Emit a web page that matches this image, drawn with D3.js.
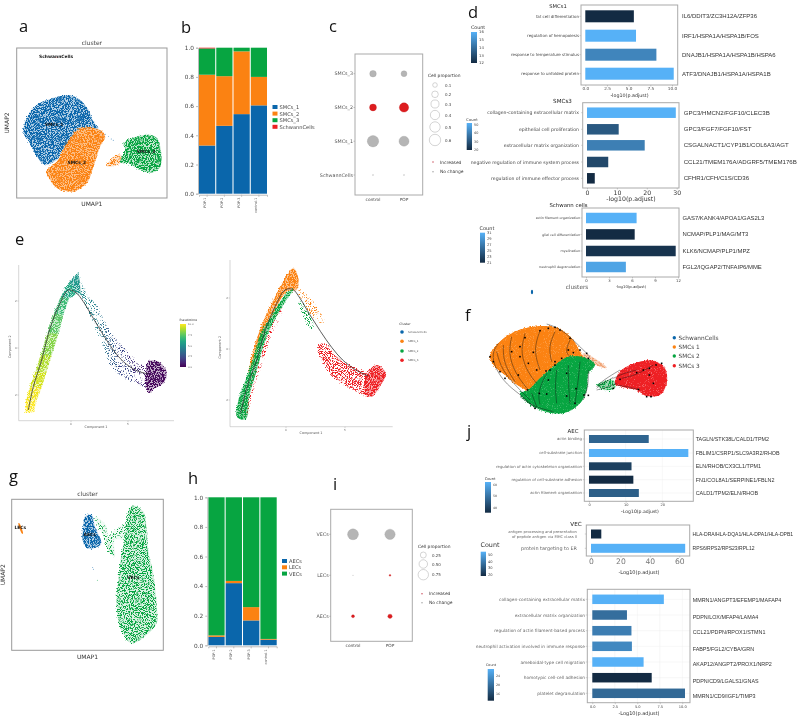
<!DOCTYPE html>
<html><head><meta charset="utf-8">
<script src="https://cdn.jsdelivr.net/npm/d3@7/dist/d3.min.js"></script>
<style>html,body{margin:0;padding:0;background:#fff}svg{display:block;filter:blur(.4px)}</style>
</head><body><svg id="c" width="800" height="719"></svg>
<script>
// ---------- DATA ----------
const clusterColors={blue:"#0a66ab",orange:"#fb8212",green:"#07a541",red:"#ee2024"};
// stacked proportions, panel b
const sampleNames=["POP-1","POP-2","POP-3","control-1"];
const smcKeys=["SMCs_1","SMCs_2","SMCs_3","SchwannCells"];
const smc1Share=[.33,.465,.545,.605];
const smc2Share=[.485,.34,.43,.195];
const smc3Share=[.18,.195,.025,.2];
const schwannShare=[.005,0,0,0];
// stacked proportions, panel h
const ecKeys=["AECs","LECs","VECs"];
const aecShare=[.057,.42,.168,.038];
const lecShare=[.01,.015,.09,.005];
const vecShare=[.933,.565,.742,.957];
// dot panels
const groupNames=["control","POP"];
const cRows=["SMCs_3","SMCs_2","SMCs_1","SchwannCells"];
const cControl=[.2,.22,.6,.004];
const cPop=[.16,.4,.46,.004];
const cChange=[0,1,0,0];
const cLegend=[.1,.2,.3,.4,.5,.6];
const iRows=["VECs","LECs","AECs"];
const iControl=[.82,.002,.06];
const iPop=[.74,.02,.13];
const iChangeControl=[0,0,1];
const iChangePop=[0,1,1];
const iLegend=[.25,.5,.75];
// enrichment: SMCs1
const d1Terms=["fat cell differentiation","regulation of hemopoiesis","response to temperature stimulus","response to unfolded protein"];
const d1Vals=[5.6,5.85,8.2,10.2];
const d1Counts=[12,16,14.7,16];
const d1Genes=["IL6/DDIT3/ZC3H12A/ZFP36","IRF1/HSPA1A/HSPA1B/FOS","DNAJB1/HSPA1A/HSPA1B/HSPA6","ATF3/DNAJB1/HSPA1A/HSPA1B"];
// enrichment: SMCs3
const d2Terms=["collagen-containing extracellular matrix","epithelial cell proliferation","extracellular matrix organization","negative regulation of immune system process","regulation of immune effector process"];
const d2Vals=[29.7,10.6,19.3,7.1,2.6];
const d2Counts=[52,31,40,27,20];
const d2Genes=["GPC3/HMCN2/FGF10/CLEC3B","GPC3/FGF7/FGF10/FST","CSGALNACT1/CYP1B1/COL6A3/AGT","CCL21/TMEM176A/ADGRF5/TMEM176B","CFHR1/CFH/C1S/CD36"];
// enrichment: Schwann cells
const d3Terms=["actin filament organization","glial cell differentiation","myelination","neutrophil degranulation"];
const d3Vals=[6.6,6.35,11.7,5.2];
const d3Counts=[31,21,21.6,30];
const d3Genes=["GAS7/KANK4/APOA1/GAS2L3","NCMAP/PLP1/MAG/MT3","KLK6/NCMAP/PLP1/MPZ","FGL2/IQGAP2/TNFAIP6/MME"];
// enrichment: AEC
const j1Terms=["actin binding","cell-substrate junction","regulation of actin cytoskeleton organization","regulation of cell-substrate adhesion","actin filament organization"];
const j1Vals=[16.3,27.1,11.6,12.1,13.6];
const j1Counts=[47,62,40,36,46];
const j1Genes=["TAGLN/STK38L/CALD1/TPM2","FBLIM1/CSRP1/SLC9A3R2/RHOB","ELN/RHOB/CX3CL1/TPM1","FN1/COL8A1/SERPINE1/FBLN2","CALD1/TPM2/ELN/RHOB"];
// enrichment: VEC
const j2Terms=["antigen processing and presentation|of peptide antigen via MHC class II","protein targeting to ER"];
const j2Vals=[7,64];
const j2Counts=[15,55];
const j2Genes=["HLA-DRA/HLA-DQA1/HLA-DPA1/HLA-DPB1","RPS6/RPS2/RPS23/RPL12"];
// enrichment: lower block
const j3Terms=["collagen-containing extracellular matrix","extracellular matrix organization","regulation of actin filament-based process","neutrophil activation involved in immune response","ameboidal-type cell migration","homotypic cell-cell adhesion","platelet degranulation"];
const j3Vals=[7.95,3.85,4.35,4.4,5.7,6.6,10.3];
const j3Counts=[27,20.5,22,23,27,14,20];
const j3Genes=["MMRN1/ANGPT3/EFEMP1/MAFAP4","PDPN/LOX/MFAP4/LAMA4","CCL21/PDPN/RPOX1/STMN1","FABP5/FGL2/CYBA/GRN","AKAP12/ANGPT2/PROX1/NRP2","PDPN/CD9/LGALS1/GNAS","MMRN1/CD9/IGF1/TIMP3"];
// cluster outlines read from the embeddings (reading units of each panel)
const umapSmc1=[[70,395],[85,345],[110,315],[150,297],[205,285],[240,300],[265,330],[280,365],[295,385],[240,385],[215,415],[190,450],[170,480],[135,495],[105,460],[85,420]];
const umapSmc2=[[140,515],[175,480],[200,430],[240,385],[300,390],[315,410],[300,440],[280,500],[260,550],[220,575],[170,565],[150,540]];
const umapSmc2Tail=[[320,500],[340,470],[362,465],[360,490]];
const umapSmc3=[[360,488],[375,450],[370,430],[430,405],[465,410],[480,440],[478,505],[450,518],[420,510],[385,490]];
const umapStrays=[[300,395],[315,403],[325,410],[333,417],[339,421],[168,172]];
const umapVec=[[400,197],[430,215],[440,260],[445,330],[460,400],[470,490],[470,550],[440,585],[395,610],[360,560],[350,490],[355,420],[365,340],[380,275],[385,215]];
const umapVecBridge=[[320,300],[340,275],[385,250],[385,300],[345,300],[345,350],[330,340]];
const umapVecLeft=[[285,230],[318,255],[325,300],[345,350],[330,340],[310,290]];
const umapAec=[[255,230],[275,225],[285,260],[303,312],[265,326],[248,300],[250,260]];
const umapLec=[[55,250],[58,250],[69,281],[66,281]];
const ecStrays=[[278,383],[280,388],[292,421]];
// pseudotime trajectory (left arm + descending arm), reading units
const trajUpper=[[76,517],[78,480],[90,440],[106,395],[122,345],[142,280],[162,220],[182,170],[208,125],[235,97],[262,165],[290,190],[320,250],[345,290],[380,330],[420,375],[445,375]];
const trajLower=[[102,517],[110,480],[126,440],[140,395],[156,345],[176,280],[190,225],[208,175],[232,160],[245,165],[270,220],[305,300],[330,370],[360,405],[410,430],[445,445],[445,445]];
const trajTime=[10,9.8,9.3,8.8,8.2,7.4,6.8,6,5.3,4.8,4.5,3.8,3,2.2,1.5,.8,.5];
const trajBlob=[[445,365],[475,365],[500,395],[490,430],[465,445],[445,458]];
const trajCurveLeft=[[85,510],[100,440],[125,360],[150,265],[180,190],[205,150],[228,158],[250,185],[280,235],[310,285],[340,330],[370,365],[410,392],[445,402]];
const trajCurveRight=[[722,520],[740,445],[770,360],[798,265],[830,190],[855,150],[878,148],[900,175],[930,225],[962,275],[995,322],[1028,360],[1068,390],[1105,408]];
const trajGreen=[[712,532],[713,490],[733,430],[758,360],[783,280],[820,220],[860,160],[880,148],[853,190],[813,260],[793,310],[768,400],[748,470],[738,537]];
const trajOrange=[[745,400],[758,340],[783,260],[813,195],[850,125],[880,85],[895,115],[890,150],[860,155],[820,220],[785,290],[760,370]];
const trajOrangeDown=[[900,150],[945,190],[975,250],[960,250],[900,170]];
const trajRedArm=[[735,530],[750,450],[770,380],[800,300],[840,210],[850,205],[812,300],[782,390],[762,450],[742,530]];
const trajGreenDown=[[890,170],[920,200],[945,270],[930,260],[900,200]];
const trajRedDown=[[955,320],[975,310],[1010,350],[1060,380],[1100,400],[1100,465],[1060,450],[1000,410],[970,370]];
const trajRedBlob=[[1100,405],[1130,375],[1158,400],[1140,440],[1115,470],[1098,465]];
// velocity embedding, reading units
const veloOrange=[[150,200],[175,160],[215,130],[270,112],[345,112],[395,145],[420,185],[430,205],[385,200],[340,230],[300,265],[265,300],[240,290],[195,255],[165,230]];
const veloGreen=[[265,300],[300,265],[340,230],[385,200],[440,205],[465,225],[445,250],[440,300],[420,340],[385,365],[340,370],[290,355],[255,330],[240,310]];
const veloRed=[[545,240],[600,215],[640,212],[675,235],[680,280],[660,315],[620,318],[590,300],[545,290],[525,280]];
const veloGreenTail=[[470,285],[520,270],[525,295],[495,300]];
const veloTail=[[430,190],[500,232],[497,235],[428,200]];
const veloLines=[[[320,102],[360,115],[400,150],[430,180],[450,200]],[[175,160],[155,190],[165,235],[200,285],[250,320],[285,355]],[[215,140],[205,190],[225,250],[265,300]],[[255,130],[240,190],[265,250],[290,280]],[[300,122],[280,180],[300,240]],[[345,125],[325,170],[335,215]],[[390,150],[375,185],[390,200]],[[170,185],[185,240],[230,290],[270,330]],[[190,165],[190,220],[225,275]],[[320,250],[300,290],[295,320],[300,345]],[[350,240],[345,290],[350,340]],[[385,225],[385,280],[390,340]],[[420,215],[415,270],[405,340]],[[445,240],[445,290],[430,330]],[[275,310],[290,350]],[[540,240],[490,270],[470,290]],[[520,262],[480,285],[470,295]],[[530,280],[490,295],[470,300]],[[590,240],[550,250],[520,265]],[[640,225],[590,255],[545,265]],[[600,300],[560,290],[530,285]],[[240,320],[280,350],[340,365]]];
const veloArrows=[[150,200],[160,215],[180,245],[195,265],[240,170],[255,143],[300,122],[325,115],[345,112],[360,120],[390,145],[420,180],[440,190],[445,205],[215,185],[240,200],[280,187],[265,220],[235,255],[290,240],[318,243],[330,240],[345,215],[365,205],[385,180],[400,188],[262,300],[298,310],[320,312],[380,318],[405,340],[432,315],[445,316],[408,296],[380,250],[325,270],[285,355],[345,225],[590,248],[610,240],[628,235],[648,225],[665,220],[628,255],[595,298],[620,320],[633,320],[520,295],[540,268],[640,280]];
const veloLegend=["SchwannCells","SMCs 1","SMCs 2","SMCs 3"];

// ---------- HELPERS ----------
const svg=d3.select("#c");
const FONT='"DejaVu Sans",sans-serif', LIB='"Liberation Sans",sans-serif', BIG='"Open Sans",sans-serif';
const defs=svg.append("defs");
function addSpeckle(id,gain,cut,seed){
  const f=defs.append("filter").attr("id",id).attr("x","-10%").attr("y","-10%").attr("width","120%").attr("height","120%").attr("color-interpolation-filters","sRGB");
  f.append("feTurbulence").attr("type","fractalNoise").attr("baseFrequency",1.05).attr("numOctaves",2).attr("seed",seed).attr("result","n");
  f.append("feDisplacementMap").attr("in","SourceGraphic").attr("in2","n").attr("scale",5).attr("xChannelSelector","R").attr("yChannelSelector","G").attr("result","d");
  f.append("feColorMatrix").attr("in","n").attr("type","matrix").attr("values",`0 0 0 0 0 0 0 0 0 0 0 0 0 0 0 ${gain} 0 0 0 ${cut}`).attr("result","m");
  f.append("feComposite").attr("in","d").attr("in2","m").attr("operator","in");
}
addSpeckle("solid",9,-2.6,2);
addSpeckle("dense",9,-3.7,3);
addSpeckle("mid",9,-4.2,5);
addSpeckle("sparse",9,-4.9,7);
const vir=d3.scaleSequential(d3.interpolateViridis).domain([0,10]);
function txt(g,x,y,s,size,o={}){
  const t=g.append("text").attr("x",x).attr("y",y).text(s).attr("font-size",size)
   .attr("font-family",o.font||FONT).attr("fill",o.fill||"#333").attr("text-anchor",o.anchor||"start");
  if(o.weight)t.attr("font-weight",o.weight);
  if(o.rot!==undefined)t.attr("transform",`rotate(${o.rot} ${x} ${y})`);
  return t;
}
const panelLetter=(x,y,s)=>txt(svg,x,y,s,16.5,{font:BIG,fill:"#111"});
function blob(g,pts,sx,sy,color,filt,under){
  const line=d3.line().x(d=>sx(d[0])).y(d=>sy(d[1])).curve(d3.curveCatmullRomClosed.alpha(.5));
  if(under)g.append("path").attr("d",line(pts)).attr("fill",color).attr("opacity",under);
  if(filt)g.append("path").attr("d",line(pts)).attr("fill",color).attr("filter",`url(#${filt})`);
}
function stacked(keys,names,rows,colors,x0,x1,y1,y0,lx,ly,ld){
  const g=svg.append("g");
  const x=d3.scaleBand().domain(names).range([x0,x1]).paddingInner(.06);
  const y=d3.scaleLinear().domain([0,1]).range([y0,y1]);
  const st=d3.stack().keys(keys)(names.map((n,i)=>{const o={n};keys.forEach((k,j)=>o[k]=rows[j][i]);return o;}));
  st.forEach((s,j)=>g.selectAll(null).data(s).join("rect").attr("x",d=>x(d.data.n)).attr("width",x.bandwidth())
    .attr("y",d=>y(d[1])).attr("height",d=>y(d[0])-y(d[1])).attr("fill",colors[j]));
  const ay=g.append("g").attr("transform",`translate(${x0-1},0)`).call(d3.axisLeft(y).tickValues([0,.2,.4,.6,.8,1]).tickFormat(d3.format(".1f")).tickSize(2).tickPadding(2));
  ay.selectAll("text").attr("font-size",5.8).attr("fill","#444").attr("font-family",FONT);
  ay.selectAll("path,line").attr("stroke","#bbb");
  const ax=g.append("g").attr("transform",`translate(0,${y0+1})`).call(d3.axisBottom(x).tickSize(2));
  ax.selectAll("path,line").attr("stroke","#bbb");
  ax.selectAll("text").attr("font-size",3.4).attr("fill","#555").attr("font-family",FONT).attr("text-anchor","end")
    .attr("transform","rotate(-90)").attr("x",-3).attr("y",-1.5).attr("dy",0);
  keys.forEach((k,j)=>{
    g.append("rect").attr("x",lx).attr("y",ly+j*ld-2).attr("width",5).attr("height",4).attr("fill",colors[j]);
    txt(g,lx+7,ly+j*ld+2,k,5.1,{fill:"#444"});
  });
}
function frame(g,x0,y0,x1,y1,c="#aaa",w=1){g.append("rect").attr("x",x0).attr("y",y0).attr("width",x1-x0).attr("height",y1-y0).attr("fill","none").attr("stroke",c).attr("stroke-width",w);}
function dots(o){
  const g=svg.append("g");
  frame(g,o.x0,o.y0,o.x1,o.y1);
  const r=d3.scaleSqrt().domain([0,1]).range([0,o.k]);
  const x=d3.scalePoint().domain(groupNames).range(o.cols);
  const y=d3.scalePoint().domain(o.rows).range(o.rowRange);
  o.rows.forEach((row,i)=>{
    txt(g,o.x0-2,y(row)+1.7,row,4.8,{anchor:"end",fill:"#555"});
    g.append("line").attr("x1",o.x0-1.5).attr("x2",o.x0).attr("y1",y(row)).attr("y2",y(row)).attr("stroke","#888").attr("stroke-width",.5);
    [[o.a,o.ca,groupNames[0]],[o.b,o.cb,groupNames[1]]].forEach(([v,c,n])=>{
      g.append("circle").attr("cx",x(n)).attr("cy",y(row)).attr("r",r(v[i])).attr("fill",c[i]?"#dd1c1f":"#b5b5b5").attr("stroke",c[i]?"#c01818":"#999").attr("stroke-width",.3);
    });
  });
  groupNames.forEach(n=>txt(g,x(n),o.y1+5.5,n,4.3,{anchor:"middle",fill:"#444"}));
  txt(g,o.lt[0],o.lt[1],"Cell proportion",4.4,{fill:"#333"});
  o.legend.forEach((v,i)=>{
    g.append("circle").attr("cx",o.lcx).attr("cy",o.lys[i]).attr("r",r(v)).attr("fill","#fff").attr("stroke","#aaa").attr("stroke-width",.5);
    txt(g,o.ltx,o.lys[i]+1.5,o.fmt(v),4,{fill:"#444"});
  });
  [["Increased","#c43a4a"],["No change","#999"]].forEach((d,i)=>{
    g.append("circle").attr("cx",o.kx).attr("cy",o.ky[i]).attr("r",.7).attr("fill",d[1]);
    txt(g,o.kx+7,o.ky[i]+1.6,d[0],4.4,{fill:"#333"});
  });
}
function colorbar(g,x0,x1,y0,y1,dom,ticks,title,size,tsize,tx,ty){
  const id="cb"+Math.round(x0)+"_"+Math.round(y0);
  const lg=defs.append("linearGradient").attr("id",id).attr("x1",0).attr("x2",0).attr("y1",1).attr("y2",0);
  lg.append("stop").attr("offset","0%").attr("stop-color","#132b43");
  lg.append("stop").attr("offset","100%").attr("stop-color","#56b1f7");
  g.append("rect").attr("x",x0).attr("y",y0).attr("width",x1-x0).attr("height",y1-y0).attr("fill",`url(#${id})`);
  const s=d3.scaleLinear().domain(dom).range([y1,y0]);
  ticks.forEach(t=>txt(g,x1+2,s(t)+size*.36,t,size,{fill:"#444"}));
  txt(g,tx,ty,title,tsize,{anchor:"middle",fill:"#333"});
}
function barPanel(o){
  const g=svg.append("g");
  const col=d3.scaleLinear().domain(o.dom).range(["#132b43","#56b1f7"]).clamp(true);
  if(o.grid){
    o.ticks.forEach(t=>g.append("line").attr("x1",o.x(t)).attr("x2",o.x(t)).attr("y1",o.box[1]).attr("y2",o.box[3]).attr("stroke","#eee").attr("stroke-width",.5));
    o.ys.forEach(y=>g.append("line").attr("x1",o.box[0]).attr("x2",o.box[2]).attr("y1",y).attr("y2",y).attr("stroke","#eee").attr("stroke-width",.5));
  }
  o.vals.forEach((v,i)=>{
    g.append("rect").attr("x",o.x(0)).attr("y",o.ys[i]-o.h/2).attr("width",o.x(v)-o.x(0)).attr("height",o.h).attr("fill",col(o.counts[i]));
    const parts=o.terms[i].split("|");
    const ts=o.termSize[i]||o.termSize;
    parts.forEach((p,k)=>txt(g,o.termX,o.ys[i]+ts*.36+(k-(parts.length-1)/2)*ts*1.25,p,ts,{anchor:"end",fill:o.termFill||"#444"}));
    g.append("line").attr("x1",o.box[0]-1.5).attr("x2",o.box[0]).attr("y1",o.ys[i]).attr("y2",o.ys[i]).attr("stroke","#888").attr("stroke-width",.4);
    txt(g,o.geneX[i]||o.geneX,(o.geneYs?o.geneYs[i]:o.ys[i])+2,o.genes[i],o.geneSize,{font:LIB,fill:"#333"});
  });
  frame(g,o.box[0],o.box[1],o.box[2],o.box[3],"#aaa",1);
  const ax=g.append("g").attr("transform",`translate(0,${o.box[3]})`).call(d3.axisBottom(o.x).tickValues(o.ticks).tickFormat(o.fmt||d3.format("d")).tickSize(1.5).tickPadding(1));
  ax.select("path").remove();
  ax.selectAll("line").attr("stroke","#888").attr("stroke-width",.4);
  ax.selectAll("text").attr("font-size",o.tickSize).attr("fill",o.tickFill||"#444").attr("font-family",FONT);
  txt(g,o.xl[0],o.xl[1],o.xlabel,o.xlSize,{anchor:"middle",fill:"#333"});
  if(o.title)txt(g,o.title[0],o.title[1],o.title[2],o.titleSize,{anchor:"middle",fill:"#222"});
  return g;
}
function umapFrame(x0,y0,x1,y1,labX,labY){
  const g=svg.append("g");
  frame(g,x0,y0,x1,y1,"#999",1);
  txt(g,(x0+x1)/2,y0-3,"cluster",6,{anchor:"middle",fill:"#444"});
  txt(g,(x0+x1)/2,labY,"UMAP1",6,{anchor:"middle",fill:"#333"});
  txt(g,labX,(y0+y1)/2,"UMAP2",6,{anchor:"middle",fill:"#333",rot:-90});
  return g;
}

// ---------- PANEL LETTERS ----------
[[19,32,"a"],[181,33,"b"],[329,32,"c"],[468,18,"d"],[15,245,"e"],[465,321,"f"],[9,482,"g"],[188,484,"h"],[333,490,"i"],[467,437,"j"]].forEach(d=>panelLetter(...d));

// ---------- a ----------
{
 const g=umapFrame(16.7,48,167,198,9,206);
 const sx=d3.scaleLinear().domain([50,500]).range([16.7,167]);
 const sy=d3.scaleLinear().domain([143,595]).range([48,198]);
 blob(g,umapSmc1,sx,sy,clusterColors.blue,"dense",.3);
 blob(g,umapSmc2,sx,sy,clusterColors.orange,"dense",.5);
 blob(g,umapSmc2Tail,sx,sy,clusterColors.orange,"mid",.2);
 blob(g,umapSmc3,sx,sy,clusterColors.green,"dense",.25);
 umapStrays.forEach((d,i)=>g.append("circle").attr("cx",sx(d[0])).attr("cy",sy(d[1])).attr("r",.45).attr("fill",i==5?clusterColors.red:clusterColors.blue));
 [["SchwannCells",168,169],["SMCs_1",162,374],["SMCs_2",230,489],["SMCs_3",437,455]].forEach(d=>txt(g,sx(d[1]),sy(d[2])+1.5,d[0],4.4,{anchor:"middle",weight:"bold",fill:"#111"}));
}
// ---------- b ----------
stacked(smcKeys,sampleNames,[smc1Share,smc2Share,smc3Share,schwannShare],[clusterColors.blue,clusterColors.orange,clusterColors.green,clusterColors.red],199,267,47.7,193.7,272.5,107,6.6);
// ---------- c ----------
dots({x0:355,x1:422.7,y0:54,y1:195,rows:cRows,rowRange:[73.7,175],cols:[373,404],a:cControl,b:cPop,ca:cChange,cb:cChange,k:7.36,
  legend:cLegend,lt:[428,77],lcx:435,ltx:445,lys:[85,94.3,104,115,127,140],fmt:d3.format(".1f"),kx:433,ky:[162,171.7]});
// ---------- d ----------
{
 const bar=(dom,ticks,o)=>barPanel(Object.assign({dom,ticks},o));
 const g1=bar([12,16],[0,2.5,5,7.5,10],{x:d3.scaleLinear().domain([0,10]).range([585.3,672]),box:[581,5,677.7,85],ys:[16.3,35.7,54.7,73.7],h:12,
   vals:d1Vals,counts:d1Counts,terms:d1Terms,genes:d1Genes,termX:579,termSize:4,geneX:682,geneSize:6,tickSize:4.2,xl:[629.5,97],xlabel:"-log10(p.adjust)",xlSize:4.8,title:[558,7.5,"SMCs1"],titleSize:5.2,fmt:d3.format(".1f")});
 colorbar(g1,471,477,32,63,[12,16],[12,13,14,15,16],"Count",3.8,4.8,478,29);
 const g2=bar([20,52],[0,10,20,30],{x:d3.scaleLinear().domain([0,30]).range([587,676.7]),box:[582.7,102.7,679,188],ys:[112.7,129.3,145.3,162,178.3],h:10.5,
   vals:d2Vals,counts:d2Counts,terms:d2Terms,genes:d2Genes,termX:579,termSize:4.6,geneX:683.7,geneSize:6.1,tickSize:6.2,xl:[631,201],xlabel:"-log10(p.adjust)",xlSize:6.2,title:[562.5,102.5,"SMCs3"],titleSize:5.6,tickFill:"#333"});
 colorbar(g2,466.7,472,123,150,[20,52],[20,30,40,50],"Count",3.4,3.8,472,120.5);
 const g3=bar([21,31],[0,3,6,9,12],{x:d3.scaleLinear().domain([0,12]).range([586,678]),box:[582,208,679,277],ys:[218,234.4,251,267],h:10.5,
   vals:d3Vals,counts:d3Counts,terms:d3Terms,genes:d3Genes,termX:580,termSize:3.3,geneX:682.5,geneSize:5.9,tickSize:3.8,xl:[631,287.5],xlabel:"-log10(p.adjust)",xlSize:3.8,title:[568.5,207,"Schwann cells"],titleSize:5.4});
 colorbar(g3,480,485,232.7,262.7,[21,31],[21,23,25,27,29,31],"Count",3.6,5,487,230);
 txt(g3,577,288.5,"clusters",5.8,{anchor:"middle",fill:"#555"});
 g3.append("ellipse").attr("cx",532).attr("cy",292).attr("rx",1.1).attr("ry",2.2).attr("fill",clusterColors.blue);
}
// ---------- e ----------
{
 const g=svg.append("g");
 const x=d3.scaleLinear().domain([0,1260]).range([0,420]);
 const y=d3.scaleLinear().domain([0,570]).range([240,430]);
 // left: coloured by pseudotime
 const poly=d3.line().x(d=>x(d[0])).y(d=>y(d[1]));
 trajTime.slice(0,-1).forEach((t,i)=>{
   const pts=[trajUpper[i],trajUpper[i+1],trajLower[i+1],trajLower[i]];
   const f=i<9?"dense":"sparse";
   g.append("path").attr("d",poly(pts)+"Z").attr("fill",vir(t)).attr("filter",`url(#${f})`);
   if(i<9)g.append("path").attr("d",poly(pts)+"Z").attr("fill",vir(t)).attr("opacity",.3);
 });
 blob(g,trajBlob,x,y,vir(.2),"dense",.3);
 const curve=d3.line().x(d=>x(d[0])).y(d=>y(d[1])).curve(d3.curveCatmullRom);
 const drawAxes=(x0,x1,yTop,yBot,xt,yt,xlabx,ylabx)=>{
   g.append("path").attr("d",`M${x0},${yTop}V${yBot}H${x1}`).attr("fill","none").attr("stroke","#bbb").attr("stroke-width",.6);
   xt.forEach(d=>{g.append("line").attr("x1",d[0]).attr("x2",d[0]).attr("y1",yBot).attr("y2",yBot+1.5).attr("stroke","#999").attr("stroke-width",.4);txt(g,d[0],yBot+4.5,d[1],2.8,{anchor:"middle",fill:"#666"});});
   yt.forEach(d=>{g.append("line").attr("x1",x0-1.5).attr("x2",x0).attr("y1",d[0]).attr("y2",d[0]).attr("stroke","#999").attr("stroke-width",.4);txt(g,x0-2,d[0]+1,d[1],2.8,{anchor:"end",fill:"#666"});});
   txt(g,xlabx,yBot+7,"Component 1",3.4,{anchor:"middle",fill:"#555"});
   txt(g,ylabx,(yTop+yBot)/2+4,"Component 2",3.4,{anchor:"middle",fill:"#555",rot:-90});
 };
 drawAxes(18.7,174,265,420.7,[[71,"0"],[128,"5"]],[[301,"2"],[348,"0"],[395,"-2"]],96,11);
 g.append("path").attr("d",curve(trajCurveLeft)).attr("fill","none").attr("stroke","#333").attr("stroke-width",.8);
 // pseudotime key
 const lg=defs.append("linearGradient").attr("id","virid").attr("x1",0).attr("x2",0).attr("y1",1).attr("y2",0);
 d3.range(0,10.01,1).forEach(t=>lg.append("stop").attr("offset",t*10+"%").attr("stop-color",vir(t)));
 g.append("rect").attr("x",180).attr("y",324).attr("width",6).attr("height",43).attr("fill","url(#virid)");
 txt(g,179.5,321,"Pseudotime",3,{fill:"#333"});
 [[10,"10.0"],[7.5,"7.5"],[5,"5.0"],[2.5,"2.5"],[0,"0.0"]].forEach(d=>txt(g,188,367-d[0]*4.3+1,d[1],2.5,{fill:"#555"}));
 // right: coloured by cluster
 blob(g,trajRedArm,x,y,clusterColors.red,"sparse");
 blob(g,trajOrangeDown,x,y,clusterColors.orange,"sparse");
 blob(g,trajGreenDown,x,y,clusterColors.green,"sparse");
 blob(g,trajOrange,x,y,clusterColors.orange,"dense",.45);
 blob(g,trajGreen,x,y,clusterColors.green,"dense",.45);
 blob(g,trajRedDown,x,y,clusterColors.red,"mid");
 blob(g,trajRedBlob,x,y,clusterColors.red,"dense",.35);
 drawAxes(230,392.7,260,426.7,[[286,"0"],[345,"5"]],[[298,"2"],[349,"0"],[400,"-2"]],311,221);
 g.append("path").attr("d",curve(trajCurveRight)).attr("fill","none").attr("stroke","#333").attr("stroke-width",.8);
 txt(g,399.3,325,"Cluster",3.2,{fill:"#333"});
 [["SchwannCells","blue"],["SMCs_1","orange"],["SMCs_2","green"],["SMCs_3","red"]].forEach((d,i)=>{
   const yy=[332,341.3,351,360.3][i];
   g.append("circle").attr("cx",402).attr("cy",yy).attr("r",1.8).attr("fill",clusterColors[d[1]]);
   txt(g,408,yy+1,d[0],2.7,{fill:"#555"});
 });
}
// ---------- f ----------
{
 const g=svg.append("g");
 const x=d3.scaleLinear().domain([0,360]).range([440,560]);
 const y=d3.scaleLinear().domain([0,140]).range([290,336.67]);
 blob(g,veloTail,x,y,"#f0a070","mid",.5);
 blob(g,veloOrange,x,y,clusterColors.orange,"solid",.8);
 blob(g,veloGreen,x,y,clusterColors.green,"solid",.8);
 blob(g,veloRed,x,y,clusterColors.red,"solid",.7);
 blob(g,veloGreenTail,x,y,clusterColors.green,"mid",.4);
 const l=d3.line().x(d=>x(d[0])).y(d=>y(d[1])).curve(d3.curveBasis);
 veloLines.forEach(s=>g.append("path").attr("d",l(s)).attr("fill","none").attr("stroke","#111").attr("stroke-width",.5).attr("opacity",.85));
 veloArrows.forEach(d=>g.append("rect").attr("x",x(d[0])-.8).attr("y",y(d[1])-.8).attr("width",1.6).attr("height",1.6).attr("fill","#000"));
 veloLegend.forEach((s,i)=>{
   const yy=[337.7,347,356,365.7][i];
   g.append("circle").attr("cx",674.3).attr("cy",yy).attr("r",1.7).attr("fill",[clusterColors.blue,clusterColors.orange,clusterColors.green,clusterColors.red][i]);
   txt(g,678.5,yy+2,s,5.8,{fill:"#444"});
 });
}
// ---------- g ----------
{
 const g=umapFrame(11.7,499.3,163.3,650.3,5,659);
 const sx=d3.scaleLinear().domain([35,490]).range([11.7,163.3]);
 const sy=d3.scaleLinear().domain([178,631]).range([499.3,650.3]);
 blob(g,umapVec,sx,sy,clusterColors.green,"mid",.15);
 blob(g,umapVecBridge,sx,sy,clusterColors.green,"sparse",.06);
 blob(g,umapVecLeft,sx,sy,clusterColors.green,"sparse",.06);
 blob(g,umapAec,sx,sy,clusterColors.blue,"dense",.3);
 blob(g,umapLec,sx,sy,clusterColors.orange,null,1);
 ecStrays.forEach((d,i)=>g.append("circle").attr("cx",sx(d[0])).attr("cy",sy(d[1])).attr("r",.45).attr("fill",i<2?clusterColors.blue:clusterColors.green));
 [["LECs",61,264],["AECs",269,283],["VECs",400,414]].forEach(d=>txt(g,sx(d[1]),sy(d[2])+1.5,d[0],4.4,{anchor:"middle",weight:"bold",fill:"#111"}));
}
// ---------- h ----------
stacked(ecKeys,sampleNames,[aecShare,lecShare,vecShare],[clusterColors.blue,clusterColors.orange,clusterColors.green],208.3,276.7,497.3,645.3,282,561,6.3);
// ---------- i ----------
dots({x0:330.7,x1:412.3,y0:509.3,y1:641.3,rows:iRows,rowRange:[534.3,616.3],cols:[353,390],a:iControl,b:iPop,ca:iChangeControl,cb:iChangePop,k:6,
  legend:iLegend,lt:[418,547.5],lcx:423.3,ltx:432,lys:[555,564,574.7],fmt:d3.format(".2f"),kx:422,ky:[593.7,602.7]});
// ---------- j ----------
{
 const bar=(dom,ticks,o)=>barPanel(Object.assign({dom,ticks,grid:true,termFill:"#666"},o));
 const g1=bar([36,62],[0,10,20],{x:d3.scaleLinear().domain([0,20]).range([589,662.3]),box:[584.3,430,693.3,501.3],ys:[439,453,466.3,479.7,493],h:8,
   vals:j1Vals,counts:j1Counts,terms:j1Terms,genes:j1Genes,termX:582,termSize:3.85,geneX:695.7,geneSize:5.4,tickSize:3.5,xl:[640,513],xlabel:"-Log10(p.adjust)",xlSize:4.6,title:[573,433,"AEC"],titleSize:5.4});
 colorbar(g1,485,491,482,512.7,[36,62],[40,50,60],"Count",3.2,3.6,490,480);
 const g2=bar([15,55],[0,20,40,60],{x:d3.scaleLinear().domain([0,60]).range([591,679.3]),box:[586.3,525,689.7,556],ys:[534,548.3],h:9,
   vals:j2Vals,counts:j2Counts,terms:j2Terms,genes:j2Genes,termX:577,termSize:[3.75,4.9],geneX:692.5,geneSize:5.05,tickSize:7.6,tickFill:"#777",xl:[639,574],xlabel:"-Log10(p.adjust)",xlSize:5,title:[576,526,"VEC"],titleSize:5.6,grid:false});
 colorbar(g2,480.7,486,551.7,576,[18,55],[20,30,40,50],"Count",3.6,6.4,490,547);
 const g3=bar([14,27],[0,2.5,5,7.5,10],{x:d3.scaleLinear().domain([0,10]).range([592.3,682.3]),box:[587.3,589.3,690,702.7],ys:[599.3,615,630.7,646.3,662,677.7,693.3],geneYs:[600,617,632,648.7,664,681,696],h:9.5,
   vals:j3Vals,counts:j3Counts,terms:j3Terms,genes:j3Genes,termX:585,termSize:4.3,geneX:692.7,geneSize:5.4,tickSize:3.6,xl:[639,715],xlabel:"-Log10(p.adjust)",xlSize:5,fmt:d3.format(".1f")});
 colorbar(g3,487.7,494,669,700.7,[13,27],[16,20,24],"Count",3.2,3.4,491,666);
}
</script></body></html>
